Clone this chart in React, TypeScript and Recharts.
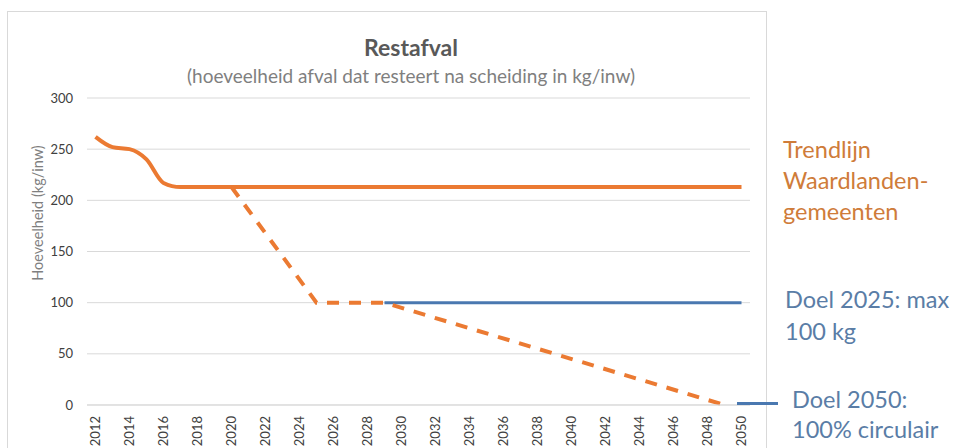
import React from 'react';
import { LineChart, Line, XAxis, YAxis, CartesianGrid } from 'recharts';

const years = [
  '2012', '2013', '2014', '2015', '2016', '2017', '2018', '2019', '2020', '2021',
  '2022', '2023', '2024', '2025', '2026', '2027', '2028', '2029', '2030', '2031',
  '2032', '2033', '2034', '2035', '2036', '2037', '2038', '2039', '2040', '2041',
  '2042', '2043', '2044', '2045', '2046', '2047', '2048', '2049', '2050',
];

// trendlijn Waardlanden-gemeenten
const trendlijn = [
  262, 252, 250, 240, 217, 213, 213, 213, 213, 213,
  213, 213, 213, 213, 213, 213, 213, 213, 213, 213,
  213, 213, 213, 213, 213, 213, 213, 213, 213, 213,
  213, 213, 213, 213, 213, 213, 213, 213, 213,
];

// gestippeld reductiepad (alleen de knikpunten, rest wordt verbonden)
const reductiepad: (number | null)[] = [
  null, null, null, null, null, null, null, null, 213, null,
  null, null, null, 100, 100, 100, 100, 100, null, null,
  null, null, null, null, null, null, null, null, null, null,
  null, null, null, null, null, null, null, 0, null,
];

// doel 2025: max 100 kg
const doel2025: (number | null)[] = [
  null, null, null, null, null, null, null, null, null, null,
  null, null, null, null, null, null, null, 100, 100, 100,
  100, 100, 100, 100, 100, 100, 100, 100, 100, 100,
  100, 100, 100, 100, 100, 100, 100, 100, 100,
];

const yTicks = [0, 50, 100, 150, 200, 250, 300];

const data = years.map((jaar, i) => ({
  jaar,
  trendlijn: trendlijn[i],
  reductiepad: reductiepad[i],
  doel2025: doel2025[i],
}));

const ORANJE = '#EB7A32';
const BLAUW = '#4A78B0';
const FONT = 'Lato, "Open Sans", sans-serif';

const XTick = ({ x, y, payload }: any) => (
  <text
    x={x}
    y={y + 3}
    transform={`rotate(-90, ${x}, ${y + 3})`}
    textAnchor="end"
    dy={4.5}
    fontSize={13}
    fill="#404040"
    fontFamily={FONT}
  >
    {payload.value}
  </text>
);

const annot: React.CSSProperties = {
  position: 'absolute',
  fontFamily: FONT,
  fontSize: 23.5,
  whiteSpace: 'nowrap',
};

export default function App() {
  return (
    <div
      style={{
        position: 'absolute',
        left: 0,
        top: 0,
        width: 957,
        height: 448,
        overflow: 'hidden',
        background: '#fff',
        fontFamily: FONT,
      }}
    >
      <div
        style={{
          position: 'absolute',
          left: 7,
          top: 11,
          width: 758,
          height: 460,
          border: '1px solid #d9d9d9',
        }}
      />
      <div
        style={{
          position: 'absolute',
          left: 411,
          top: 47,
          transform: 'translate(-50%, -50%)',
          fontSize: 23,
          fontWeight: 'bold',
          color: '#595959',
          whiteSpace: 'nowrap',
        }}
      >
        Restafval
      </div>
      <div
        style={{
          position: 'absolute',
          left: 411,
          top: 75,
          transform: 'translate(-50%, -50%)',
          fontSize: 19,
          color: '#7f7f7f',
          whiteSpace: 'nowrap',
        }}
      >
        (hoeveelheid afval dat resteert na scheiding in kg/inw)
      </div>
      <div
        style={{
          position: 'absolute',
          left: 37,
          top: 213,
          transform: 'translate(-50%, -50%) rotate(-90deg)',
          fontSize: 14.5,
          color: '#7f7f7f',
          whiteSpace: 'nowrap',
        }}
      >
        Hoeveelheid (kg/inw)
      </div>

      <div style={{ position: 'absolute', left: 0, top: 0 }}>
        <LineChart
          width={770}
          height={448}
          data={data}
          margin={{ top: 98, right: 20, left: 27, bottom: 0 }}
        >
          <CartesianGrid vertical={false} stroke="#d9d9d9" />
          <XAxis
            dataKey="jaar"
            interval={1}
            padding={{ left: 8.5, right: 8.5 }}
            tickLine={false}
            axisLine={{ stroke: '#d9d9d9' }}
            tick={<XTick />}
            height={43}
          />
          <YAxis
            domain={[0, 300]}
            ticks={yTicks}
            width={60}
            axisLine={false}
            tickLine={false}
            tickMargin={8}
            tick={{ fontSize: 13, fill: '#404040', fontFamily: FONT }}
          />
          <Line
            type="monotone"
            dataKey="trendlijn"
            stroke={ORANJE}
            strokeWidth={4}
            dot={false}
            isAnimationActive={false}
          />
          <Line
            type="linear"
            dataKey="doel2025"
            stroke={BLAUW}
            strokeWidth={3}
            dot={false}
            isAnimationActive={false}
          />
          <Line
            type="linear"
            dataKey="reductiepad"
            stroke={ORANJE}
            strokeWidth={4}
            strokeDasharray="12 10"
            connectNulls
            dot={false}
            isAnimationActive={false}
          />
        </LineChart>
      </div>

      <div style={{ position: 'absolute', left: 737, top: 402, width: 41, height: 3, background: BLAUW }} />

      <div style={{ ...annot, left: 783, top: 134, lineHeight: '31px', color: '#CF7C3A' }}>
        Trendlijn
        <br />
        Waardlanden-
        <br />
        gemeenten
      </div>
      <div style={{ ...annot, left: 785, top: 283, lineHeight: '32px', color: '#5A7DA6' }}>
        Doel 2025: max
        <br />
        100 kg
      </div>
      <div style={{ ...annot, left: 792, top: 384, lineHeight: '30px', color: '#5A7DA6' }}>
        Doel 2050:
        <br />
        100% circulair
      </div>
    </div>
  );
}
